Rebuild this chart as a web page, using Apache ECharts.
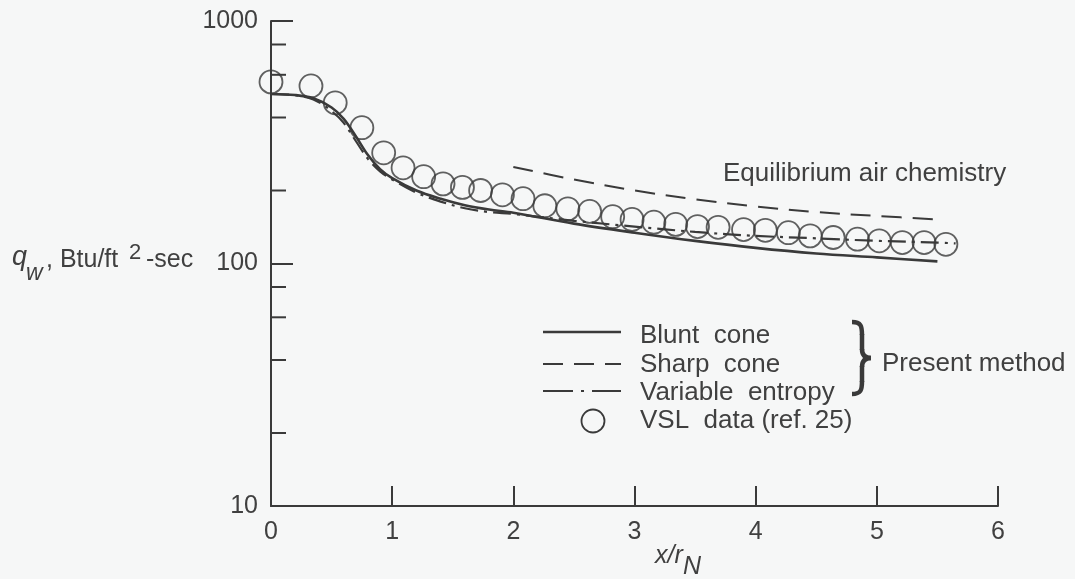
<!DOCTYPE html>
<html>
<head>
<meta charset="utf-8">
<script src="https://cdn.jsdelivr.net/npm/echarts@6/dist/echarts.min.js"></script>
<style>
html,body{margin:0;padding:0;background:#f6f7f7;}
#chart{width:1075px;height:579px;}
</style>
</head>
<body>
<div id="chart"></div>
<script>
// ---- data ----
var xTickValues = [0, 1, 2, 3, 4, 5, 6];
var yTickValues = [10, 100, 1000];
var yMinorTicks = [20, 40, 60, 80, 200, 400, 600, 800];

var xBlunt = [0, 0.2, 0.35, 0.5, 0.6, 0.7, 0.8, 0.9, 1.0, 1.2, 1.4, 1.6, 1.8, 2.0, 2.5, 3.0, 3.5, 4.0, 4.5, 5.0, 5.5];
var qBlunt = [500, 495, 480, 440, 395, 335, 280, 245, 225, 200, 185, 174, 167, 162, 146, 134, 124, 116, 110, 106, 102];

var xSharp = [2.0, 2.5, 3.0, 3.5, 4.0, 4.5, 5.0, 5.5];
var qSharp = [250, 222, 200, 184, 172, 163, 157, 152];

var xVar = [0, 0.2, 0.35, 0.5, 0.6, 0.7, 0.8, 0.9, 1.0, 1.2, 1.4, 1.6, 1.8, 2.0, 2.5, 3.0, 3.5, 4.0, 4.5, 5.0, 5.5, 5.65];
var qVar = [500, 494, 475, 425, 380, 320, 270, 240, 222, 196, 180, 169, 163, 160, 150, 142, 135, 130, 127, 124, 122, 121];

var xVSL = [0, 0.33, 0.53, 0.75, 0.93, 1.09, 1.26, 1.42, 1.58, 1.73, 1.91, 2.08, 2.26, 2.45, 2.63, 2.82, 2.98, 3.16, 3.34, 3.52, 3.69, 3.90, 4.08, 4.27, 4.45, 4.64, 4.84, 5.02, 5.21, 5.39, 5.57];
var qVSL = [561, 540, 460, 363, 286, 248, 228, 213, 206, 200, 192, 185, 173, 168, 164, 156, 152, 148, 145, 142, 141, 138, 137, 134, 130, 128, 126, 124, 122, 122, 120];

var seriesNames = ['Blunt  cone', 'Sharp  cone', 'Variable  entropy', 'VSL  data (ref. 25)'];

// ---- helpers ----
function zip(xs, ys) { return xs.map(function (x, i) { return [x, ys[i]]; }); }
var INK = '#3a3a3a';
var TXT = '#404040';
var FONT = 'Liberation Sans';

var chart = echarts.init(document.getElementById('chart'), null, {renderer: 'canvas'});

var braceStyle = {fill: 'none', stroke: INK, lineWidth: 4.5};

var option = {
  backgroundColor: '#f6f7f7',
  animation: false,
  grid: {left: 271, right: 77, top: 21, bottom: 73, containLabel: false},
  xAxis: {
    type: 'value', min: 0, max: 6, interval: 1,
    axisLine: {show: true, lineStyle: {color: INK, width: 2}},
    axisTick: {show: true, inside: true, length: 20, lineStyle: {color: INK, width: 2}},
    splitLine: {show: false},
    axisLabel: {
      color: TXT, fontSize: 25, fontFamily: FONT, margin: 14,
      formatter: function (v) { return xTickValues.indexOf(v) >= 0 ? String(v) : ''; }
    }
  },
  yAxis: {
    type: 'log', logBase: 10, min: 10, max: 1000,
    axisLine: {show: true, lineStyle: {color: INK, width: 2}},
    axisTick: {show: true, inside: true, length: 22, lineStyle: {color: INK, width: 2}},
    minorTick: {show: false},
    splitLine: {show: false},
    axisLabel: {
      color: TXT, fontSize: 25, fontFamily: FONT, margin: 13,
      formatter: function (v) { return yTickValues.indexOf(Math.round(v)) >= 0 ? String(Math.round(v)) : ''; }
    }
  },
  series: [
    {
      name: seriesNames[0], type: 'line', data: zip(xBlunt, qBlunt),
      smooth: 0.35, symbol: 'none', lineStyle: {color: INK, width: 2.6}, z: 3
    },
    {
      name: seriesNames[1], type: 'line', data: zip(xSharp, qSharp),
      smooth: 0.35, symbol: 'none', lineStyle: {color: INK, width: 2, type: [20, 11]}, z: 3
    },
    {
      name: seriesNames[2], type: 'line', data: zip(xVar, qVar),
      smooth: 0.35, symbol: 'none', lineStyle: {color: INK, width: 2.2, type: [18, 6, 3, 6]}, z: 3
    },
    {
      name: seriesNames[3], type: 'scatter', data: zip(xVSL, qVSL),
      symbol: 'circle', symbolSize: 23, clip: false,
      itemStyle: {color: 'rgba(0,0,0,0)', borderColor: INK, borderWidth: 1.8}, z: 4
    },
    {
      name: 'minor ticks', type: 'custom', clip: false, silent: true,
      data: yMinorTicks.map(function (v) { return [0, v]; }),
      renderItem: function (params, api) {
        var p = api.coord([api.value(0), api.value(1)]);
        return {
          type: 'line',
          shape: {x1: p[0], y1: p[1], x2: p[0] + 15, y2: p[1]},
          style: {stroke: INK, lineWidth: 2}
        };
      }
    }
  ],
  graphic: [
    // y-axis title: q_w, Btu/ft^2-sec
    {type: 'text', x: 12, y: 257, style: {text: 'q', font: 'italic 27px ' + FONT, fill: TXT, verticalAlign: 'middle'}},
    {type: 'text', x: 26, y: 274, style: {text: 'w', font: 'italic 23px ' + FONT, fill: TXT, verticalAlign: 'middle'}},
    {type: 'text', x: 46, y: 260, style: {text: ', Btu/ft', font: '25px ' + FONT, fill: TXT, verticalAlign: 'middle'}},
    {type: 'text', x: 129, y: 253, style: {text: '2', font: '22px ' + FONT, fill: TXT, verticalAlign: 'middle'}},
    {type: 'text', x: 146, y: 260, style: {text: '-sec', font: '25px ' + FONT, fill: TXT, verticalAlign: 'middle'}},
    // x-axis title: x/r_N
    {type: 'text', x: 655, y: 556, style: {text: 'x/r', font: 'italic 25px ' + FONT, fill: TXT, verticalAlign: 'middle'}},
    {type: 'text', x: 683, y: 567, style: {text: 'N', font: 'italic 25px ' + FONT, fill: TXT, verticalAlign: 'middle'}},
    // annotation
    {type: 'text', x: 723, y: 174, style: {text: 'Equilibrium air chemistry', font: '26px ' + FONT, fill: TXT, verticalAlign: 'middle'}},
    // legend
    {type: 'line', shape: {x1: 543, y1: 332, x2: 621, y2: 332}, style: {stroke: INK, lineWidth: 2.6}},
    {type: 'line', shape: {x1: 543, y1: 364, x2: 621, y2: 364}, style: {stroke: INK, lineWidth: 2, lineDash: [20, 11]}},
    {type: 'line', shape: {x1: 543, y1: 391, x2: 621, y2: 391}, style: {stroke: INK, lineWidth: 2.2, lineDash: [30, 8, 3, 8]}},
    {type: 'circle', shape: {cx: 593, cy: 421, r: 11.5}, style: {fill: 'none', stroke: INK, lineWidth: 1.8}},
    {type: 'text', x: 640, y: 336, style: {text: seriesNames[0], font: '26px ' + FONT, fill: TXT, verticalAlign: 'middle'}},
    {type: 'text', x: 640, y: 365, style: {text: seriesNames[1], font: '26px ' + FONT, fill: TXT, verticalAlign: 'middle'}},
    {type: 'text', x: 640, y: 393, style: {text: seriesNames[2], font: '26px ' + FONT, fill: TXT, verticalAlign: 'middle'}},
    {type: 'text', x: 640, y: 421, style: {text: seriesNames[3], font: '26px ' + FONT, fill: TXT, verticalAlign: 'middle'}},
    // brace
    {type: 'bezierCurve', shape: {x1: 852, y1: 322, cpx1: 861, cpy1: 322, cpx2: 862, cpy2: 326, x2: 862, y2: 335}, style: braceStyle},
    {type: 'line', shape: {x1: 862, y1: 334, x2: 862, y2: 350}, style: braceStyle},
    {type: 'bezierCurve', shape: {x1: 862, y1: 349, cpx1: 862, cpy1: 355, cpx2: 865, cpy2: 358, x2: 871, y2: 358}, style: braceStyle},
    {type: 'bezierCurve', shape: {x1: 871, y1: 358, cpx1: 865, cpy1: 358, cpx2: 862, cpy2: 361, x2: 862, y2: 367}, style: braceStyle},
    {type: 'line', shape: {x1: 862, y1: 366, x2: 862, y2: 382}, style: braceStyle},
    {type: 'bezierCurve', shape: {x1: 862, y1: 381, cpx1: 862, cpy1: 390, cpx2: 861, cpy2: 394, x2: 852, y2: 394}, style: braceStyle},
    {type: 'text', x: 882, y: 364, style: {text: 'Present method', font: '26px ' + FONT, fill: TXT, verticalAlign: 'middle'}}
  ]
};
chart.setOption(option);
</script>
</body>
</html>
